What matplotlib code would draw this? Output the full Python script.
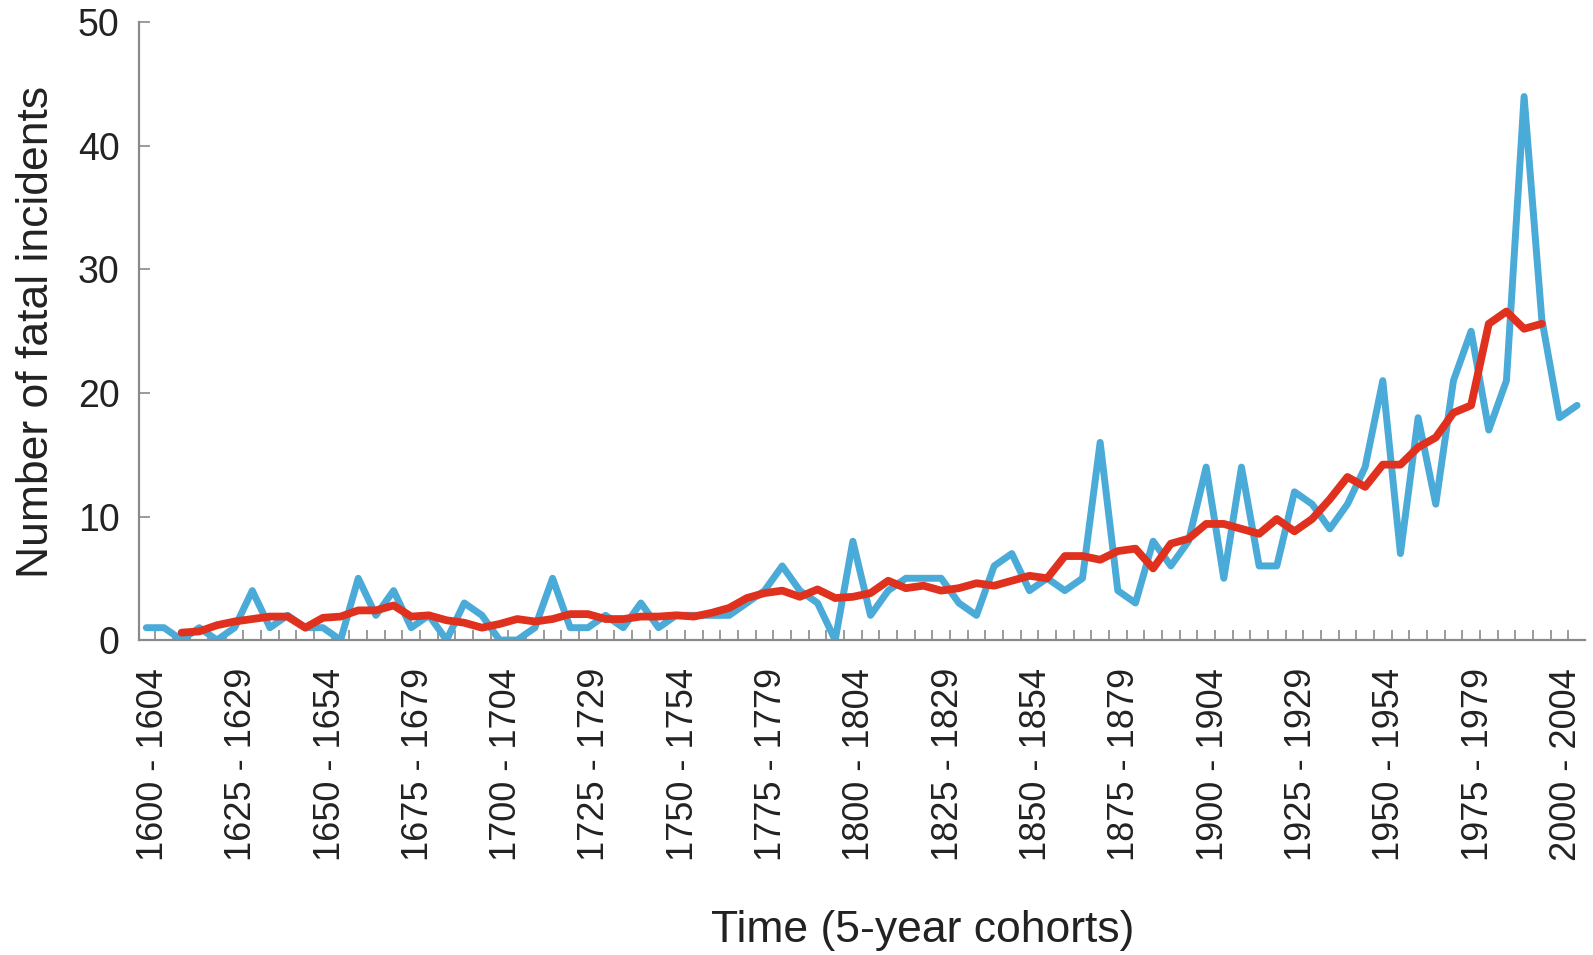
import numpy as np
import matplotlib
matplotlib.use("Agg")
import matplotlib.pyplot as plt

plt.rcParams['font.family'] = ['Liberation Sans', 'DejaVu Sans']

# 5-year cohorts 1600-1604 ... 2005-2009
starts = list(range(1600, 2010, 5))
cohorts = ["%d - %d" % (s, s + 4) for s in starts]

# number of fatal incidents per cohort (blue)
incidents = [1, 1, 0, 1, 0, 1, 4, 1, 2, 1,
             1, 0, 5, 2, 4, 1, 2, 0, 3, 2,
             0, 0, 1, 5, 1, 1, 2, 1, 3, 1,
             2, 2, 2, 2, 3, 4, 6, 4, 3, 0,
             8, 2, 4, 5, 5, 5, 3, 2, 6, 7,
             4, 5, 4, 5, 16, 4, 3, 8, 6, 8,
             14, 5, 14, 6, 6, 12, 11, 9, 11, 14,
             21, 7, 18, 11, 21, 25, 17, 21, 44, 26,
             18, 19]

# smoothed trend (red), from cohort index 2 to 79
trend_start = 2
trend = [0.6, 0.7, 1.2, 1.5, 1.7, 1.9, 1.9, 1.0, 1.8, 1.9,
         2.4, 2.4, 2.8, 1.9, 2.0, 1.6, 1.4, 1.0, 1.3, 1.7,
         1.5, 1.7, 2.1, 2.1, 1.7, 1.7, 1.9, 1.9, 2.0, 1.9,
         2.2, 2.6, 3.4, 3.8, 4.0, 3.5, 4.1, 3.4, 3.5, 3.8,
         4.8, 4.2, 4.4, 4.0, 4.2, 4.6, 4.4, 4.8, 5.2, 5.0,
         6.8, 6.8, 6.5, 7.2, 7.4, 5.8, 7.8, 8.2, 9.4, 9.4,
         9.0, 8.6, 9.8, 8.8, 9.8, 11.4, 13.2, 12.4, 14.2, 14.2,
         15.6, 16.4, 18.4, 19.0, 25.6, 26.6, 25.2, 25.6]

x = np.arange(len(incidents))
xt = np.arange(trend_start, trend_start + len(trend))

fig = plt.figure(figsize=(15.93, 9.55), dpi=100)
ax = fig.add_axes([0.0874, 0.3298, 0.9076, 0.6467])

ax.plot(x, incidents, color='#4aaad8', lw=5.0, solid_joinstyle='round',
        solid_capstyle='round', zorder=2)
ax.plot(xt, trend, color='#e0301e', lw=5.6, solid_joinstyle='round',
        solid_capstyle='round', zorder=3)

ax.set_xlim(-0.4, 81.45)
ax.set_ylim(0, 50)

for s in ['top', 'right']:
    ax.spines[s].set_visible(False)
for s in ['left', 'bottom']:
    ax.spines[s].set_color('#8a8a8a')
    ax.spines[s].set_linewidth(1.6)

ax.set_yticks([0, 10, 20, 30, 40, 50])
ax.tick_params(axis='y', direction='in', length=8, width=1.2, color='#8a8a8a',
               labelsize=27, pad=14, labelcolor='#222222')

# category labels sit a little right of the category centre in the original
ax.set_xticks(x[::5] + 0.4)
ax.set_xticklabels(cohorts[::5], rotation=90, va='top', ha='center')
ax.set_xticks(np.arange(0.5, len(incidents) - 0.5, 1.0), minor=True)
ax.tick_params(axis='x', which='major', length=0, labelsize=26, pad=20,
               labelcolor='#222222')
ax.tick_params(axis='x', which='minor', direction='in', length=7, width=1.2,
               color='#8a8a8a')

fig.text(0.579, 0.026, "Time (5-year cohorts)", ha='center', va='center',
         fontsize=32, color='#222222')
fig.text(0.023, 0.652, "Number of fatal incidents", ha='center', va='center',
         rotation=90, fontsize=32, color='#222222')

fig.savefig("out.png", dpi=100)
